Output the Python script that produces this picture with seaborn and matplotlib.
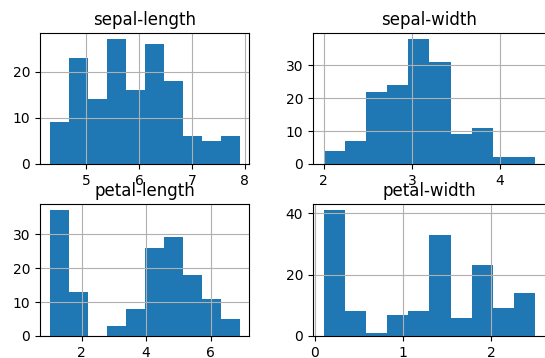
import numpy as np
import pandas as pd
import matplotlib
matplotlib.use("Agg")
import matplotlib.pyplot as plt
import seaborn as sns


# Iris histogram counts (10 bins each)

names = ["sepal-length", "sepal-width", "petal-length", "petal-width"]

sepal_length_counts = [9, 23, 14, 27, 16, 26, 18, 6, 5, 6]
sepal_width_counts = [4, 7, 22, 24, 38, 31, 9, 11, 2, 2]
petal_length_counts = [37, 13, 0, 3, 8, 26, 29, 18, 11, 5]
petal_width_counts = [41, 8, 1, 7, 8, 33, 6, 23, 9, 14]

# min / max of each column (bin range)
sepal_length_range = (4.3, 7.9)
sepal_width_range = (2.0, 4.4)
petal_length_range = (1.0, 6.9)
petal_width_range = (0.1, 2.5)

counts = [sepal_length_counts, sepal_width_counts,
          petal_length_counts, petal_width_counts]
ranges = [sepal_length_range, sepal_width_range,
          petal_length_range, petal_width_range]


fig = plt.figure(figsize=(5.45, 3.58), dpi=100)

positions = [
    [0.0734, 0.5419, 0.3835, 0.366],
    [0.5743, 0.5419, 0.4275, 0.366],
    [0.0734, 0.0615, 0.3835, 0.3687],
    [0.5743, 0.0615, 0.4275, 0.3687],
]

for name, cnt, rng, pos in zip(names, counts, ranges, positions):
    ax = fig.add_axes(pos)
    # left edge of each bin, so each count lands in its own bin
    edges = np.histogram_bin_edges(list(rng), bins=10)
    df = pd.DataFrame({"value": edges[:-1], "count": cnt})
    sns.histplot(
        data=df,
        x="value",
        weights="count",
        bins=10,
        binrange=rng,
        color="#1f77b4",
        alpha=1,
        linewidth=0,
        ax=ax
    )
    ax.set_title(name)
    ax.set_xlabel("")
    ax.set_ylabel("")
    ax.grid(True)

fig.savefig("out.png", dpi=100)
